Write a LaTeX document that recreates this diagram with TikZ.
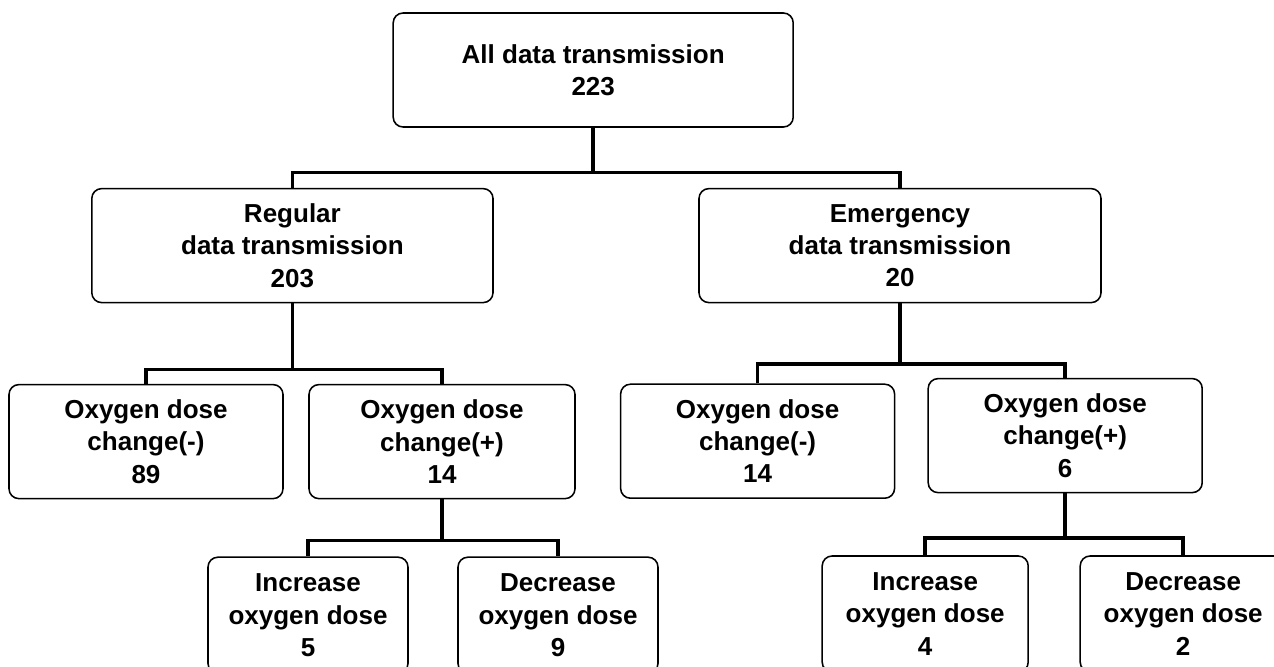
\documentclass[tikz,border=0pt]{standalone}
\usepackage{fontspec}
\setmainfont{Liberation Sans}
\usetikzlibrary{positioning,calc}

\begin{document}
\begin{tikzpicture}[
  box/.style={rectangle, rounded corners=7pt, draw, line width=1.1pt, minimum width=#1, minimum height=2.85cm, inner sep=2pt, align=center, font=\bfseries\fontsize{18.5}{23}\selectfont},
  box/.default=6.85cm,
  link/.style={line width=2.6pt}
]
  \clip (0,0) rectangle (31.85,-16.65);
  % top level
  \node[box=10cm] (all) at (14.83, -1.75) {All data transmission\\223};
  \node[box=10.03cm] (reg) at (7.31, -6.14) {Regular\\data transmission\\203};
  \node[box=10.05cm] (emg) at (22.5, -6.14) {Emergency\\data transmission\\20};
  % oxygen dose change
  \node[box] (rm) at (3.65, -11.04) {Oxygen dose\\change(-)\\89};
  \node[box=6.65cm] (rp) at (11.05, -11.04) {Oxygen dose\\change(+)\\14};
  \node[box] (em) at (18.94, -11.03) {Oxygen dose\\change(-)\\14};
  \node[box] (ep) at (26.63, -10.89) {Oxygen dose\\change(+)\\6};
  % increase / decrease
  \node[box=5cm, minimum height=2.9cm] (ri) at (7.7, -15.38) {Increase\\oxygen dose\\5};
  \node[box=5cm, minimum height=2.9cm] (rd) at (13.95, -15.38) {Decrease\\oxygen dose\\9};
  \node[box=5.15cm, minimum height=2.9cm] (ei) at (23.13, -15.35) {Increase\\oxygen dose\\4};
  \node[box=5.15cm, minimum height=2.9cm] (ed) at (29.58, -15.35) {Decrease\\oxygen dose\\2};
  % connectors
  \draw[link] (all.south) -- ++(0,-1.12) coordinate (j1);
  \draw[link] (reg.north) |- (j1) -| (emg.north);
  \draw[link] (reg.south) -- ++(0,-1.65) coordinate (j2);
  \draw[link] (rm.north) |- (j2) -| (rp.north);
  \draw[link] (emg.south) -- ++(0,-1.52) coordinate (j3);
  \draw[link] (em.north) |- (j3) -| (ep.north);
  \draw[link] (rp.south) -- ++(0,-1.03) coordinate (j4);
  \draw[link] (ri.north) |- (j4) -| (rd.north);
  \draw[link] (ep.south) -- ++(0,-1.12) coordinate (j5);
  \draw[link] (ei.north) |- (j5) -| (ed.north);
\end{tikzpicture}
\end{document}
